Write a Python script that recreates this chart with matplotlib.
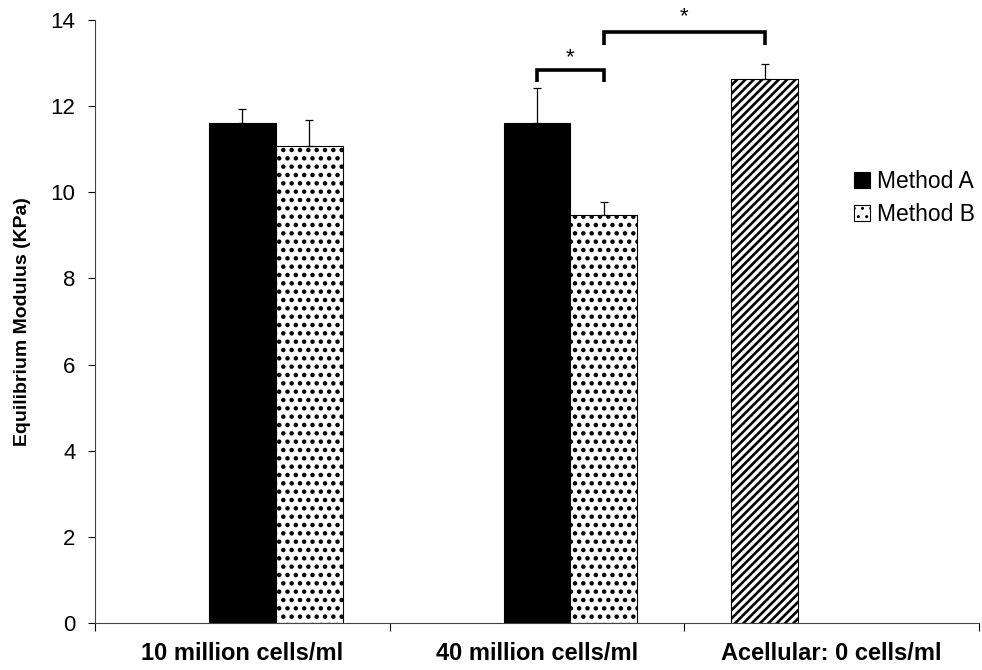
import matplotlib
matplotlib.use("Agg")
import matplotlib.pyplot as plt
import numpy as np

categories = ["10 million cells/ml", "40 million cells/ml", "Acellular: 0 cells/ml"]
method_a = [11.6, 11.62]
method_a_err = [0.33, 0.79]
method_b = [11.07, 9.47]
method_b_err = [0.6, 0.3]
acellular = [12.63]
acellular_err = [0.35]
yticks = [0, 2, 4, 6, 8, 10, 12, 14]

plt.rcParams['font.family'] = ['Liberation Sans', 'DejaVu Sans']

fig = plt.figure(figsize=(9.82, 6.70), dpi=100)
ax = fig.add_axes([95/982, 47/670, 884/982, 603/670])

w = 0.227
centers = np.arange(len(categories)) + 0.5
eb_kw = dict(fmt='none', ecolor='black', elinewidth=0.9, capsize=3, capthick=0.9)

# Method A (middle slot)
xa = centers[:2]
ba = ax.bar(xa, method_a, width=w, color='black', edgecolor='black', linewidth=0.8, label='Method A')
ax.errorbar(xa, method_a, yerr=[[0] * 2, method_a_err], **eb_kw)

# Method B (right slot)
xb = centers[:2] + w
with plt.rc_context({'hatch.linewidth': 2.0}):
    bb = ax.bar(xb, method_b, width=w, color='white', edgecolor='black', linewidth=0.8,
                hatch='..', label='Method B')
ax.errorbar(xb, method_b, yerr=[[0] * 2, method_b_err], **eb_kw)

# Acellular (left slot)
xc = centers[2:] - w
with plt.rc_context({'hatch.linewidth': 1.9}):
    ax.bar(xc, acellular, width=w, color='white', edgecolor='black', linewidth=0.8, hatch='////')
ax.errorbar(xc, acellular, yerr=[[0], acellular_err], **eb_kw)

# significance brackets
def bracket(x1, x2, y_top, y_leg, ystar):
    ax.plot([x1, x1, x2, x2], [y_leg, y_top, y_top, y_leg], color='black', lw=2.6,
            solid_joinstyle='miter', solid_capstyle='butt', clip_on=False)
    ax.text((x1 + x2) / 2, ystar, '*', ha='center', va='center', fontsize=16, clip_on=False)

bracket(xa[1], xb[1], 12.83, 12.57, 13.12)
bracket(xb[1], xc[0], 13.71, 13.43, 14.08)

ax.set_xlim(0, 3)
ax.set_ylim(0, 14)
ax.set_yticks(yticks)
ax.set_yticklabels([str(t) for t in yticks], fontsize=16)
ax.set_xticks([0, 1, 2, 3])
ax.set_xticklabels([])
ax.set_xticks(centers, minor=True)
ax.set_xticklabels(categories, minor=True, fontsize=17, fontweight='bold')
ax.tick_params(axis='x', which='minor', length=0, pad=14)
ax.tick_params(axis='x', which='major', length=6, direction='out', width=0.8)
ax.tick_params(axis='y', length=5, direction='out', width=0.8, pad=9)
for s in ['top', 'right']:
    ax.spines[s].set_visible(False)
for s in ['left', 'bottom']:
    ax.spines[s].set_linewidth(0.8)
    ax.spines[s].set_color('#444444')

ax.set_ylabel('Equilibrium Modulus (KPa)', fontsize=14, fontweight='bold', labelpad=14)

leg = ax.legend(handles=[ba, bb], loc='center left', frameon=False, fontsize=16.5,
                handlelength=0.7, handleheight=0.7, handletextpad=0.3,
                labelspacing=0.45, borderaxespad=0, borderpad=0,
                bbox_to_anchor=(854/982, 1 - 198/670), bbox_transform=fig.transFigure)

fig.savefig('out.png', dpi=100)
